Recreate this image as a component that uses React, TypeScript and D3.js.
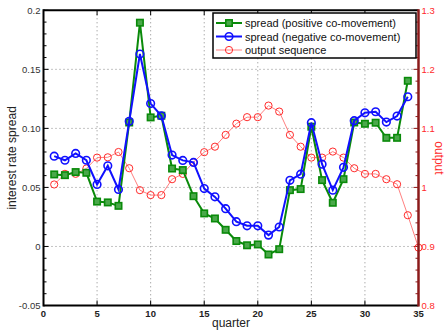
import React from 'react';
import * as d3 from 'd3';

const quarters = d3.range(1, 35);
const outQuarters = d3.range(1, 36);

const spreadPositive = [
  0.061, 0.0604, 0.063, 0.0624, 0.038, 0.0373, 0.0344, 0.105, 0.1895, 0.1093,
  0.1107, 0.066, 0.0647, 0.0426, 0.028, 0.0237, 0.0141, 0.0046, 0.001, 0.0017,
  -0.0068, -0.0023, 0.0477, 0.0486, 0.1014, 0.0562, 0.037, 0.057, 0.105, 0.1039,
  0.1048, 0.092, 0.092, 0.1403,
];
const spreadNegative = [
  0.0765, 0.073, 0.0788, 0.073, 0.0525, 0.0683, 0.0483, 0.106, 0.163, 0.121,
  0.1107, 0.0774, 0.0729, 0.0712, 0.049, 0.042, 0.032, 0.021, 0.0175, 0.0175,
  0.0096, 0.0165, 0.056, 0.0612, 0.1048, 0.0697, 0.0477, 0.067, 0.1065, 0.1132,
  0.1141, 0.1053, 0.1104, 0.1268,
];
const outputSeq = [
  1.005, 1.023, 1.023, 1.032, 1.0505, 1.051, 1.06, 1.0325, 0.9953, 0.987,
  0.987, 1.0139, 1.0229, 1.0427, 1.0597, 1.069, 1.089, 1.108, 1.119, 1.119,
  1.1386, 1.1285, 1.089, 1.069, 1.0505, 1.0505, 1.0607, 1.0505, 1.0325, 1.0229,
  1.0229, 1.0139, 1.0054, 0.9529, 0.898,
];

const xTicks = [0, 5, 10, 15, 20, 25, 30, 35];
const yTicks = [-0.05, 0, 0.05, 0.1, 0.15, 0.2];
const yTickLabels = ['-0.05', '0', '0.05', '0.10', '0.15', '0.2'];
const y2Ticks = [0.8, 0.9, 1, 1.1, 1.2, 1.3];
const y2TickLabels = ['0.8', '0.9', '1', '1.1', '1.2', '1.3'];
const legendLabels = ['spread (positive co-movement)', 'spread (negative co-movement)', 'output sequence'];

const W = 446, H = 331;
const L = 43.5, R = 418.5, T = 10.3, B = 305.5;
const FONT = 'Liberation Sans, Arial, sans-serif';

const GREEN = '#0a8a0a';
const BLUE = '#1010ff';
const RED = '#ff2a2a';
const SQ_FILL = '#4aa84a';

export default function App() {
  const x = d3.scaleLinear().domain([0, 35]).range([L, R]);
  const y = d3.scaleLinear().domain([-0.05, 0.2]).range([B, T]);
  const y2 = d3.scaleLinear().domain([0.8, 1.3]).range([B, T]);

  const line = d3.line<[number, number]>().x(d => x(d[0])).y(d => y(d[1]));
  const line2 = d3.line<[number, number]>().x(d => x(d[0])).y(d => y2(d[1]));

  const pos = quarters.map((q, i) => [q, spreadPositive[i]] as [number, number]);
  const neg = quarters.map((q, i) => [q, spreadNegative[i]] as [number, number]);
  const out = outQuarters.map((q, i) => [q, outputSeq[i]] as [number, number]);

  const minorY = d3.range(-0.05, 0.2001, 0.01);
  const minorY2 = d3.range(0.8, 1.3001, 0.02);

  const lx = 213, ly = 13, lw = 203, lh = 45;

  return (
    <svg width={W} height={H} style={{ position: 'absolute', left: 0, top: 0, background: '#fff' }}>
      {/* grid */}
      {xTicks.slice(1, -1).map(t => (
        <line key={'gx' + t} x1={x(t)} x2={x(t)} y1={T} y2={B} stroke="#888" strokeWidth={1} strokeDasharray="1,3" />
      ))}
      {yTicks.slice(1, -1).map(t => (
        <line key={'gy' + t} x1={L} x2={R} y1={y(t)} y2={y(t)} stroke="#888" strokeWidth={1} strokeDasharray="1,3" />
      ))}

      {/* minor ticks */}
      {minorY.map((t, i) => (
        <line key={'my' + i} x1={L} x2={L + (i % 5 === 0 ? 5 : 3)} y1={y(t)} y2={y(t)} stroke="#000" strokeWidth={1} />
      ))}
      {minorY2.map((t, i) => (
        <line key={'my2' + i} x1={R} x2={R - (i % 5 === 0 ? 5 : 3)} y1={y2(t)} y2={y2(t)} stroke="#8b1a1a" strokeWidth={1} />
      ))}
      {xTicks.map(t => (
        <g key={'xt' + t}>
          <line x1={x(t)} x2={x(t)} y1={B} y2={B - 5} stroke="#000" />
          <line x1={x(t)} x2={x(t)} y1={T} y2={T + 5} stroke="#000" />
        </g>
      ))}

      {/* series */}
      <path d={line2(out) || ''} fill="none" stroke="#ff8080" strokeWidth={1} />
      {out.map((d, i) => (
        <circle key={'o' + i} cx={x(d[0])} cy={y2(d[1])} r={3.6} fill="none" stroke={RED} strokeWidth={1} />
      ))}
      <path d={line(pos) || ''} fill="none" stroke={GREEN} strokeWidth={2} />
      {pos.map((d, i) => (
        <rect key={'p' + i} x={x(d[0]) - 3.2} y={y(d[1]) - 3.2} width={6.4} height={6.4} fill={SQ_FILL} stroke={GREEN} strokeWidth={1.6} />
      ))}
      <path d={line(neg) || ''} fill="none" stroke={BLUE} strokeWidth={2} />
      {neg.map((d, i) => (
        <circle key={'n' + i} cx={x(d[0])} cy={y(d[1])} r={3.8} fill="none" stroke={BLUE} strokeWidth={1.6} />
      ))}

      {/* frame */}
      <line x1={L} x2={R} y1={T} y2={T} stroke="#000" strokeWidth={2} />
      <line x1={L} x2={R} y1={B} y2={B} stroke="#000" strokeWidth={2} />
      <line x1={L} x2={L} y1={T - 1} y2={B + 1} stroke="#000" strokeWidth={2} />
      <line x1={R} x2={R} y1={T - 1} y2={B + 1} stroke="#8b1a1a" strokeWidth={2.5} />

      {/* tick labels */}
      {xTicks.map(t => (
        <text key={'xl' + t} x={x(t)} y={B + 11} textAnchor="middle" fontFamily={FONT} fontSize={9.5} fontWeight="bold" fill="#222">{t}</text>
      ))}
      {yTicks.map((t, i) => (
        <text key={'yl' + t} x={L - 3} y={y(t) + 3.5} textAnchor="end" fontFamily={FONT} fontSize={9.5} fill="#333">{yTickLabels[i]}</text>
      ))}
      {y2Ticks.map((t, i) => (
        <text key={'y2l' + t} x={R + 3} y={y2(t) + 3.5} textAnchor="start" fontFamily={FONT} fontSize={9.5} fill={RED}>{y2TickLabels[i]}</text>
      ))}

      {/* axis labels */}
      <text x={(L + R) / 2} y={H - 4} textAnchor="middle" fontFamily={FONT} fontSize={12} fill="#222">quarter</text>
      <text transform={`translate(16,${(T + B) / 2}) rotate(-90)`} textAnchor="middle" fontFamily={FONT} fontSize={12} fill="#222">interest rate spread</text>
      <text transform={`translate(435,${(T + B) / 2}) rotate(90)`} textAnchor="middle" fontFamily={FONT} fontSize={12} fill={RED}>output</text>

      {/* legend */}
      <rect x={lx} y={ly} width={lw} height={lh} fill="#fff" stroke="#000" strokeWidth={1.5} />
      {legendLabels.map((lab, i) => {
        const cy = ly + 10 + i * 13.5;
        const mx = lx + 16;
        return (
          <g key={lab}>
            <line x1={lx + 3} x2={lx + 29} y1={cy} y2={cy}
              stroke={i === 0 ? GREEN : i === 1 ? BLUE : '#ff8080'} strokeWidth={i === 2 ? 1 : 2} />
            {i === 0 && <rect x={mx - 3.2} y={cy - 3.2} width={6.4} height={6.4} fill={SQ_FILL} stroke={GREEN} strokeWidth={1.6} />}
            {i === 1 && <circle cx={mx} cy={cy} r={3.8} fill="none" stroke={BLUE} strokeWidth={1.6} />}
            {i === 2 && <circle cx={mx} cy={cy} r={3.6} fill="none" stroke={RED} strokeWidth={1} />}
            <text x={lx + 32} y={cy + 4} fontFamily={FONT} fontSize={11} fill="#111">{lab}</text>
          </g>
        );
      })}
    </svg>
  );
}
